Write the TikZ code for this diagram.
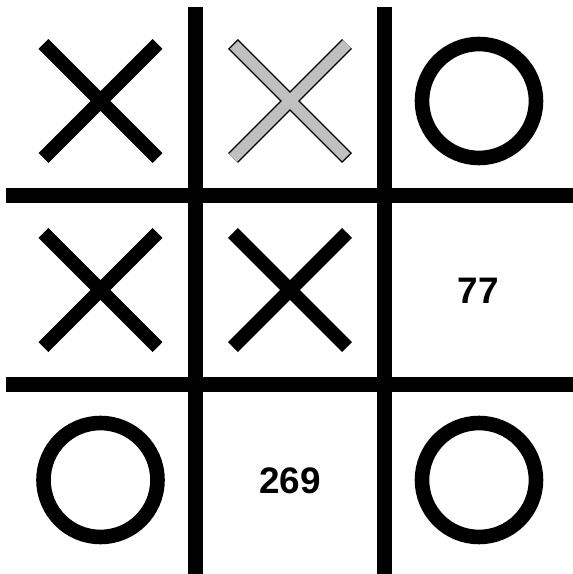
\documentclass[tikz,border=0pt]{standalone}
\usepackage{fontspec}
\setmainfont{Liberation Sans}
\usepackage{tikz}
\usetikzlibrary{calc}
\definecolor{crossgray}{RGB}{192,192,192}

\begin{document}
\begin{tikzpicture}[
    bar/.style={line width=.15cm,black},
    xmark/.style={line width=.14cm,black},
    xfill/.style={line width=.14cm-.8pt,crossgray,shorten <=.4pt,shorten >=.4pt},
    omark/.style={line width=.146cm,black},
    num/.style={font=\bfseries\fontsize{10.5pt}{12pt}\selectfont,inner sep=0pt}
  ]
    \useasboundingbox (0,0) rectangle (5.73,5.74);
    % cell centres
    \foreach \r/\y in {1/4.73,2/2.84,3/.94} {\foreach \c/\x in {1/1.005,2/2.90,3/4.79} {\coordinate (c\r\c) at (\x,\y);}}
    % grid
    \draw[bar] (1.95,5.67)--(1.95,0); \draw[bar] (3.845,5.67)--(3.845,0);
    \draw[bar] (.06,3.78)--(5.73,3.78); \draw[bar] (.06,1.89)--(5.73,1.89);
    % crosses
    \foreach \c in {c11,c21,c22} {\draw[xmark] ($(\c)+(-.57,-.57)$)--($(\c)+(.57,.57)$) ($(\c)+(-.57,.57)$)--($(\c)+(.57,-.57)$);}
    \draw[xmark] ($(c12)+(-.57,-.57)$)--($(c12)+(.57,.57)$) ($(c12)+(-.57,.57)$)--($(c12)+(.57,-.57)$);
    \draw[xfill] ($(c12)+(-.57,-.57)$)--($(c12)+(.57,.57)$) ($(c12)+(-.57,.57)$)--($(c12)+(.57,-.57)$);
    % noughts
    \foreach \c in {c13,c31,c33} {\draw[omark] (\c) circle (.57);}
    % numbers
    \node[num] (n77) at ($(c23)+(-.005,-.005)$) {77};
    \node[num] (n269) at ($(c32)+(0,-.005)$) {269};
  \end{tikzpicture}
\end{document}
